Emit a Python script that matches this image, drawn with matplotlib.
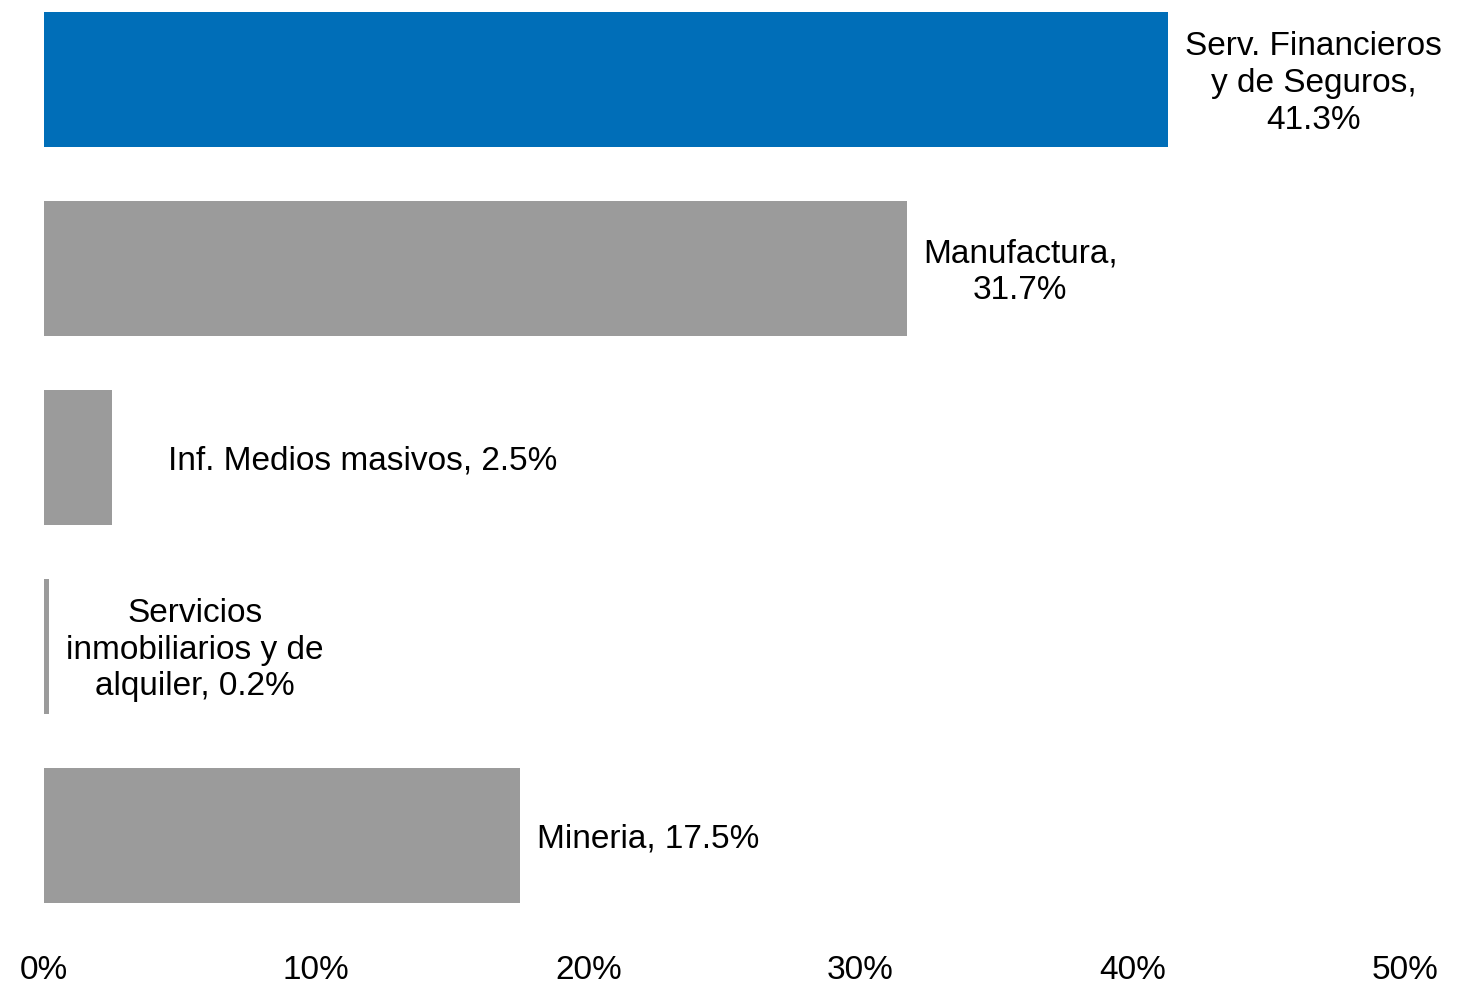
import matplotlib.pyplot as plt
from matplotlib.ticker import FuncFormatter

plt.rcParams['font.family'] = ['Liberation Sans', 'DejaVu Sans']

# data, top to bottom
sectors = ["Serv. Financieros\ny de Seguros,", "Manufactura,", "Inf. Medios masivos,",
           "Servicios\ninmobiliarios y de\nalquiler,", "Mineria,"]
shares = [41.3, 31.7, 2.5, 0.2, 17.5]
colors = ["#006EB8", "#9B9B9B", "#9B9B9B", "#9B9B9B", "#9B9B9B"]
x_ticks = [0, 10, 20, 30, 40, 50]

# how the value is joined to the name in each label
joiners = ["\n", "\n", " ", " ", " "]
# label offsets from bar end, in pixels (Excel placed them a bit unevenly)
label_dx = [17, 16, 56, 17, 17]

fig = plt.figure(figsize=(14.79, 9.84), dpi=100)
ax = fig.add_axes([44 / 1479, 1 - 930 / 984, (1405 - 44) / 1479, 930 / 984])

pos = list(range(len(shares)))
ax.barh(pos, shares, height=0.714, color=colors)

for i, (name, val) in enumerate(zip(sectors, shares)):
    txt = f"{name}{joiners[i]}{val:.1f}%"
    ax.annotate(txt, (val, i), xytext=(label_dx[i] * 0.72, -2.5), textcoords="offset points",
                ha="left", va="center", multialignment="center", fontsize=24,
                linespacing=1.24, color="#000000")

ax.set_xlim(0, 50)
ax.set_ylim(4.5, -0.423)
ax.set_xticks(x_ticks)
ax.xaxis.set_major_formatter(FuncFormatter(lambda v, p: f"{v:.0f}%"))
ax.tick_params(axis="x", length=0, labelsize=24, pad=18)
ax.set_yticks([])
for s in ax.spines.values():
    s.set_visible(False)

fig.savefig("out.png", dpi=100)
